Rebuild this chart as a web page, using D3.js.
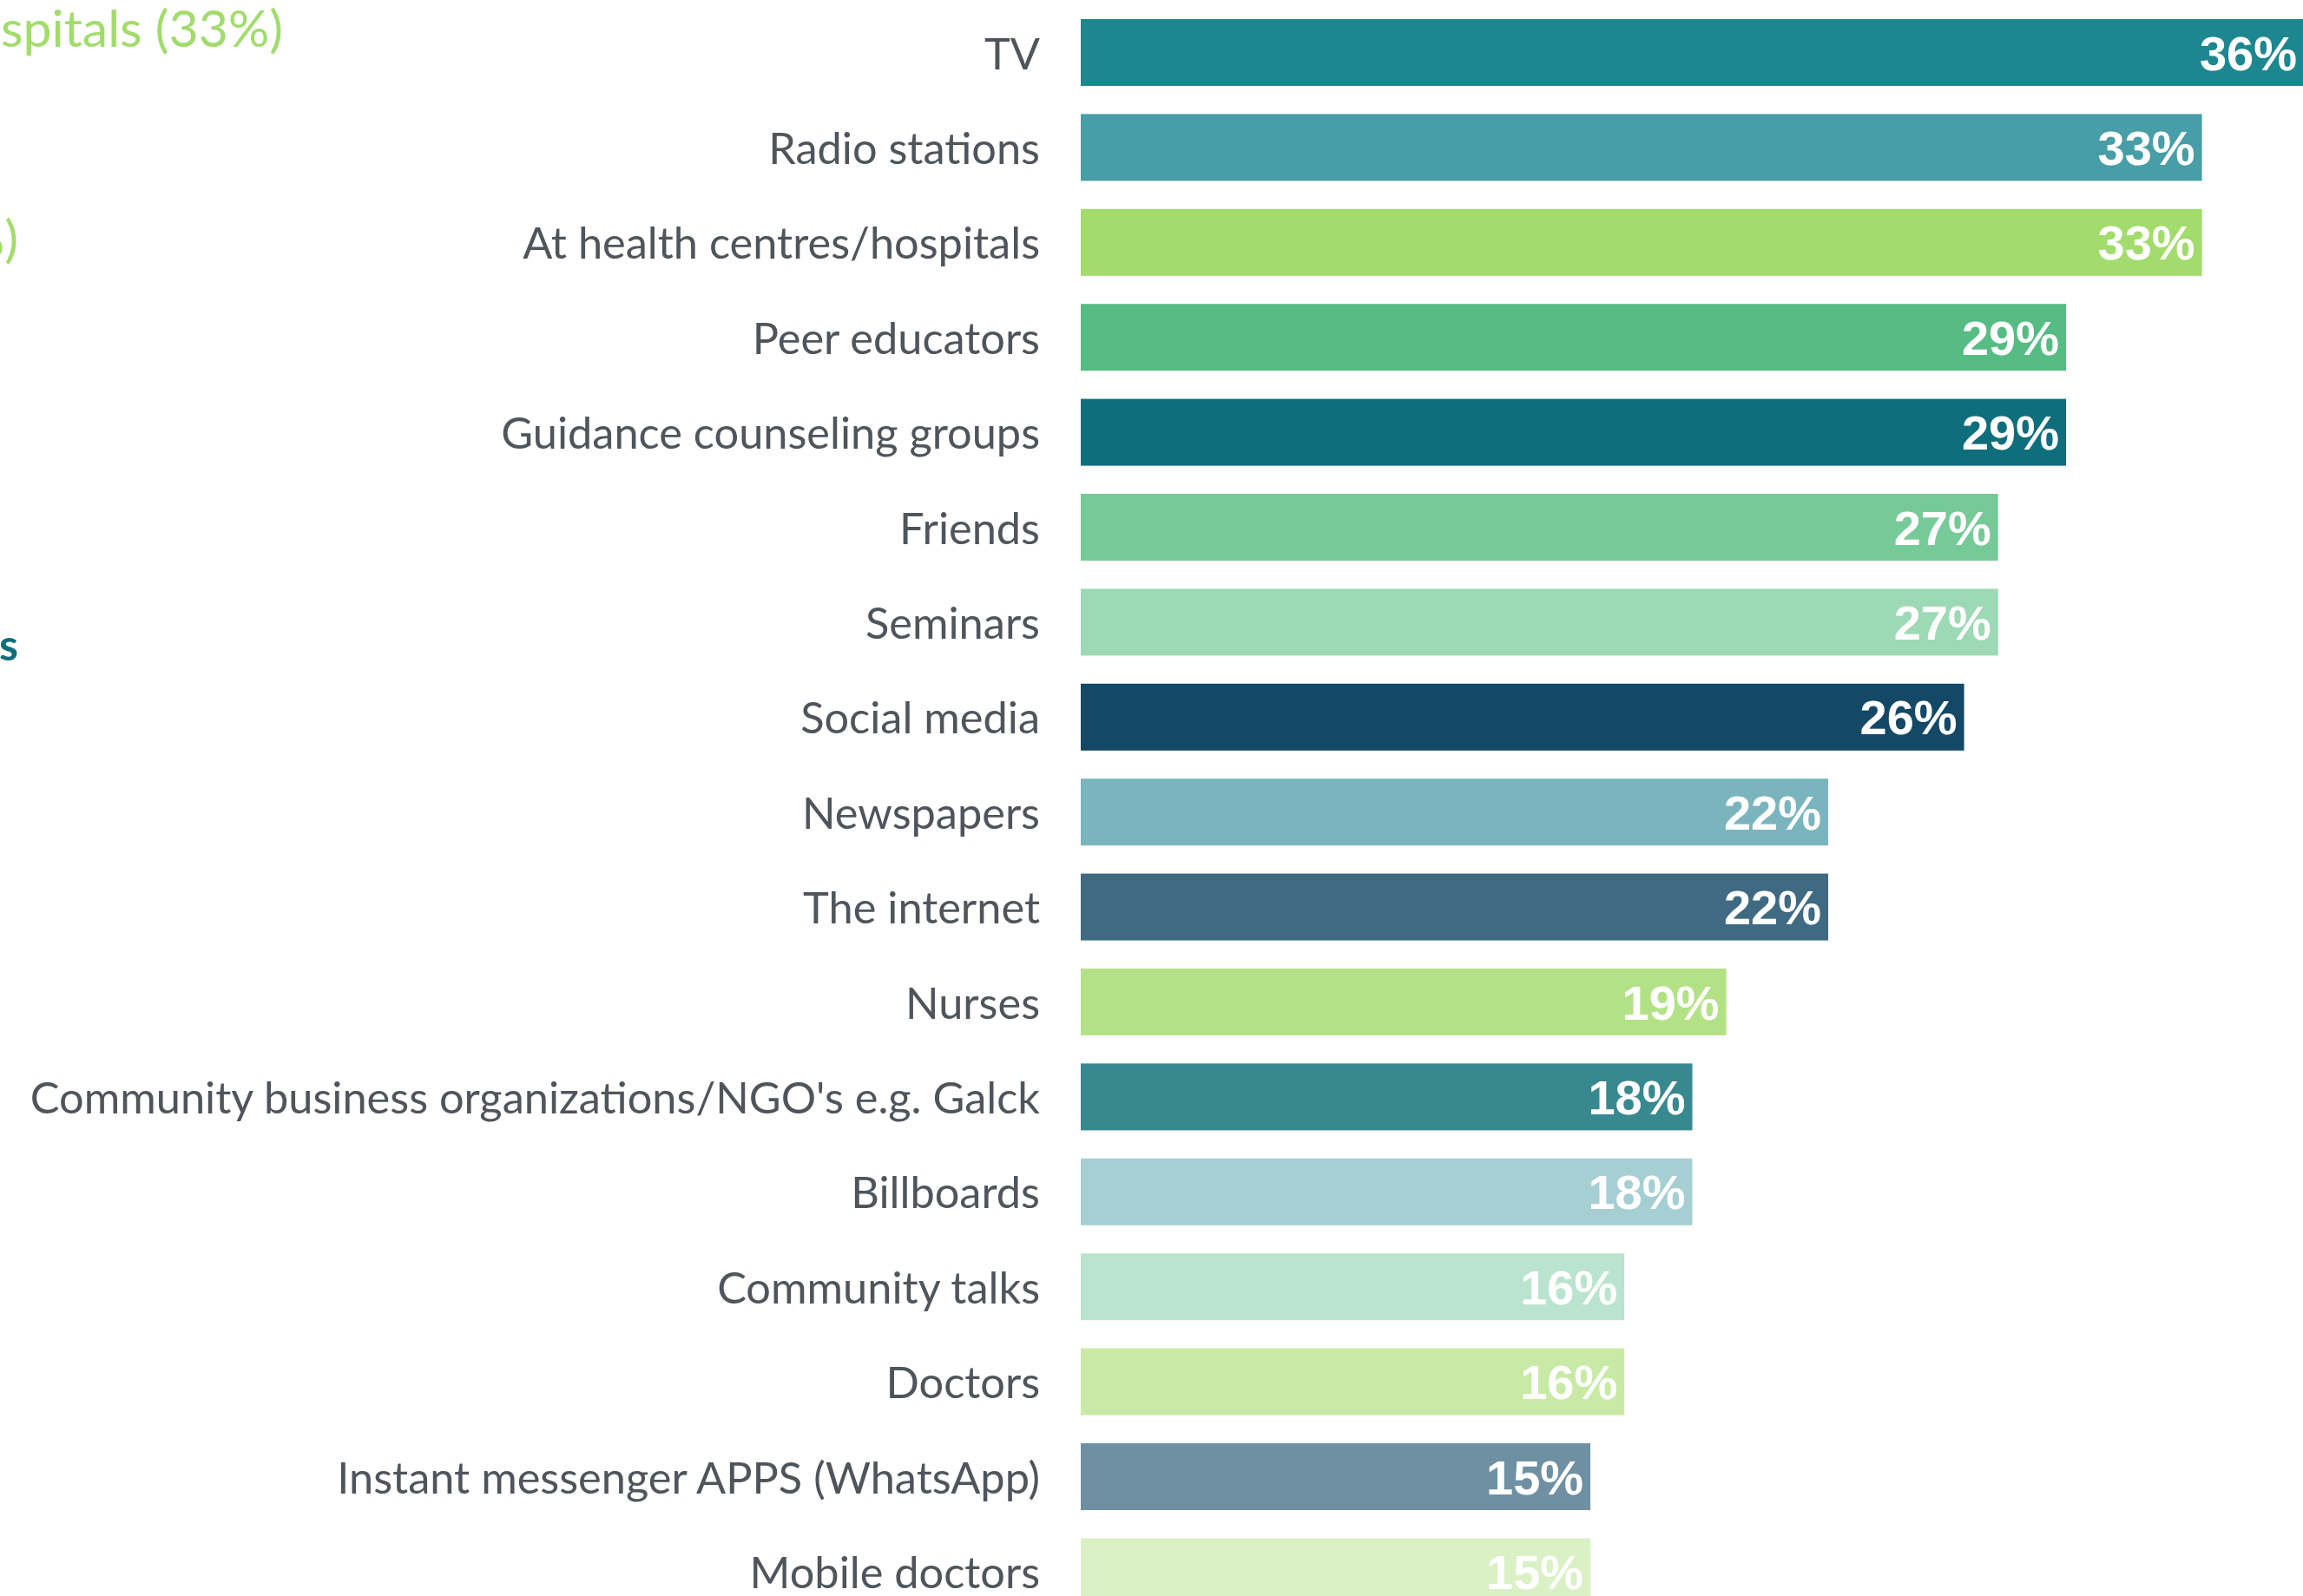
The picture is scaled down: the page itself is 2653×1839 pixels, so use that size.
<!DOCTYPE html>
<html>
<head>
<meta charset="utf-8">
<script src="https://cdn.jsdelivr.net/npm/d3@7"></script>
<style>
body { margin: 0; background: #fff; overflow: hidden; }
svg { display: block; }
</style>
</head>
<body>
<svg width="2653" height="1839"></svg>
<script>
var categories = ["TV", "Radio stations", "At health centres/hospitals", "Peer educators",
    "Guidance counseling groups", "Friends", "Seminars", "Social media", "Newspapers",
    "The internet", "Nurses", "Community business organizations/NGO's e.g. Galck",
    "Billboards", "Community talks", "Doctors", "Instant messenger APPS (WhatsApp)",
    "Mobile doctors"]

var values = [36, 33, 33, 29, 29, 27, 27, 26, 22, 22, 19, 18, 18, 16, 16, 15, 15]

var barColors = ["#1d878f", "#489ea6", "#a2dc6c", "#56bc84", "#0f6e7c", "#76ca98",
    "#9cd9b4", "#134866", "#7ab5bd", "#3f6a82", "#b3e286", "#388890", "#a5cfd3",
    "#bae4cf", "#c8eaa6", "#6f90a2", "#daf0c5"]

// annotation fragments on the left, cut off by the frame
var notes = [
    {text: "At health centres/hospitals (33%)", color: "#a2dc6c", weight: 400},
    {text: "Radio stations (33%)", color: "#a2dc6c", weight: 400},
    {text: "Top sources", color: "#0f6e7c", weight: 700}
]

var svg = d3.select("svg"),
    width = 2653,
    height = 1839

var x = d3.scaleLinear()
    .domain([0, 36])
    .range([1245, 2654])

var y = d3.scaleBand()
    .domain(categories)
    .range([5.8, 5.8 + 17 * 109.4])
    .paddingInner(0.296)
    .paddingOuter(0.148)

var rows = svg.selectAll("g.row")
    .data(categories)
    .enter()
    .append("g")
    .attr("class", "row")

rows.append("rect")
    .attr("x", x(0))
    .attr("y", function(d) { return y(d) })
    .attr("width", function(d, i) { return x(values[i]) - x(0) })
    .attr("height", y.bandwidth())
    .style("fill", function(d, i) { return barColors[i] })

// category labels
rows.append("text")
    .attr("x", x(0) - 47)
    .attr("y", function(d) { return y(d) + y.bandwidth() / 2 + 19 })
    .attr("text-anchor", "end")
    .style("font-family", "Lato, 'Noto Sans', sans-serif")
    .style("font-size", "50.5px")
    .style("fill", "#50555c")
    .text(function(d) { return d })

// value labels
rows.append("text")
    .attr("x", function(d, i) { return x(values[i]) - 8 })
    .attr("y", function(d) { return y(d) + y.bandwidth() / 2 + 20 })
    .attr("text-anchor", "end")
    .style("font-family", "'Liberation Sans', Arial, sans-serif")
    .style("font-weight", "bold")
    .style("font-size", "56px")
    .style("fill", "#fff")
    .text(function(d, i) { return values[i] + "%" })

// left annotations
var noteY = [54, 296, 761]
var noteX = [326, 21, 21]
svg.selectAll("text.note")
    .data(notes)
    .enter()
    .append("text")
    .attr("class", "note")
    .attr("x", function(d, i) { return noteX[i] })
    .attr("y", function(d, i) { return noteY[i] })
    .attr("text-anchor", "end")
    .style("font-family", "Lato, 'Noto Sans', sans-serif")
    .style("font-size", function(d, i) { return i == 2 ? "50px" : "59px" })
    .style("font-weight", function(d) { return d.weight })
    .style("fill", function(d) { return d.color })
    .text(function(d) { return d.text })
</script>
</body>
</html>
